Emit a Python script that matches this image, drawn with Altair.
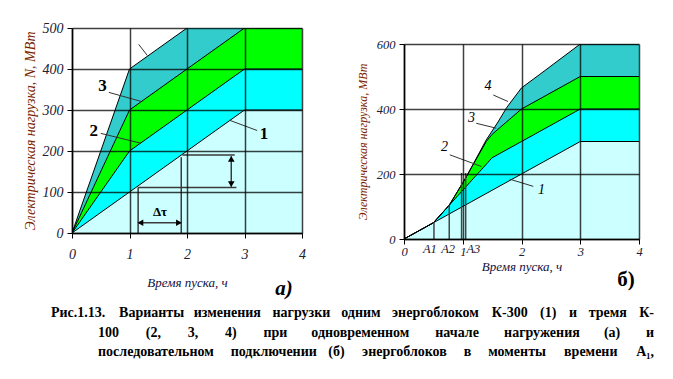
import altair as alt
import pandas as pd

FONT = "Liberation Serif"
COLORS = ["#ccffff", "#00ffff", "#00ff00", "#33cccc"]

# ---------------- panel (a): simultaneous start ----------------
A_T = [[0, 3, 4], [0, 1, 3, 4], [0, 1, 3, 4], [0, 1, 2, 3, 4]]
A_N = [[0, 300, 300], [0, 200, 400, 400], [0, 300, 500, 500], [0, 400, 500, 600, 600]]

A_LABELS = ["1", "2", "3"]
A_LABEL_T = [3.34, 0.38, 0.53]
A_LABEL_N = [242, 250, 358]
A_LEAD_T = [2.74, 0.50, 0.64, 1.16]
A_LEAD_N = [275, 243, 343, 460]
A_LEAD_T2 = [3.22, 1.20, 1.20, 1.31]
A_LEAD_N2 = [250, 219, 321, 433]

A_GUIDE_T = [1.15, 1.15, 1.90, 1.92, 2.77, 1.15]
A_GUIDE_N = [0, 111, 0, 190, 113, 25]
A_GUIDE_T2 = [1.15, 2.86, 1.90, 2.83, 2.77, 1.90]
A_GUIDE_N2 = [111, 111, 185, 190, 187, 25]
A_HEAD_T = [2.77, 2.77, 1.19, 1.86]
A_HEAD_N = [181, 119, 25, 25]
A_HEAD_SHAPE = ["triangle-up", "triangle-down", "triangle-left", "triangle-right"]

# ---------------- panel (б): sequential connection ----------------
B_T = [[0, 3, 4],
       [0, 0.5, 1.5, 2, 3, 4],
       [0, 0.5, 0.77, 1.05, 1.4, 1.5, 2, 3, 4],
       [0, 0.5, 0.77, 1.05, 1.4, 1.6, 1.75, 2, 2.3, 3, 4]]
B_N = [[0, 300, 300],
       [0, 50, 250, 300, 400, 400],
       [0, 50, 104, 188, 300, 322, 400, 500, 500],
       [0, 50, 104, 188, 305, 360, 405, 465, 505, 600, 600]]

B_LABELS = ["1", "2", "3", "4"]
B_LABEL_T = [2.34, 0.69, 1.15, 1.43]
B_LABEL_N = [151, 283, 372, 471]
B_LEAD_T = [1.80, 0.78, 1.23, 1.52]
B_LEAD_N = [184, 259, 356, 443]
B_LEAD_T2 = [2.20, 1.32, 1.57, 1.77]
B_LEAD_N2 = [162, 223, 341, 423]

B_A_T = [0.51, 0.77, 0.98, 1.05]
B_A_TOP = [50, 104, 203, 203]
B_A_NAMES = ["A1", "A2", "A3"]
B_A_NAME_T = [0.44, 0.75, 1.18]

CAPTION = [
    "Рис.1.13. Варианты изменения нагрузки одним энергоблоком К-300 (1) и тремя К-",
    "100 (2, 3, 4) при одновременном начале нагружения (а) и",
    "последовательном подключении (б) энергоблоков в моменты времени А₁,",
]


def bands(ts, ns):
    return pd.concat([pd.DataFrame({"t": t, "N": n, "s": str(i + 1)})
                      for i, (t, n) in enumerate(zip(ts, ns))], ignore_index=True)


def axes(ymax, yvals, w_lab, ytitle, lab_pad_x, title_pad_x, y_title_size, title_pad_y):
    common = dict(labelFont=FONT, labelFontStyle="italic", labelColor="#202030",
                  labelFlush=False, tickSize=5, tickColor="black", domainColor="black",
                  domainWidth=1.5, grid=True, gridColor="black", gridOpacity=0.75,
                  gridWidth=1.5, titleFont=FONT, titleFontStyle="italic",
                  titleFontWeight="normal", zindex=1)
    x = alt.X("t:Q", scale=alt.Scale(domain=[0, 4], nice=False, zero=False),
              axis=alt.Axis(values=[0, 1, 2, 3, 4], format="d", title="Время пуска, ч",
                            labelFontSize=w_lab, labelPadding=lab_pad_x,
                            titleFontSize=13, titleColor="#101040",
                            titlePadding=title_pad_x, **common))
    y = alt.Y("N:Q", scale=alt.Scale(domain=[0, ymax], nice=False), stack=None,
              axis=alt.Axis(values=yvals, format="d", title=ytitle,
                            labelFontSize=w_lab, labelPadding=4,
                            titleFontSize=y_title_size, titleColor="#7a1f00",
                            titlePadding=title_pad_y, **common))
    return x, y


def area_layers(ts, ns, x, y):
    df = bands(ts, ns)
    layers = []
    for i in reversed(range(4)):
        layers.append(alt.Chart(df).transform_filter(alt.datum.s == str(i + 1))
                      .mark_area(color=COLORS[i], opacity=1, clip=True, line=False)
                      .encode(x=x, y=y))
    layers.append(alt.Chart(df).mark_line(color="black", strokeWidth=1, clip=True)
                  .encode(x=alt.X("t:Q"), y=alt.Y("N:Q"), detail="s:N", order="t:Q"))
    return layers


def segs(t, n, t2, n2):
    return pd.DataFrame({"t": t, "N": n, "t2": t2, "N2": n2})


# ---------- panel (a) ----------
xa, ya = axes(500, [0, 100, 200, 300, 400, 500], 14, "Электрическая нагрузка, N, МВт",
              9, 15, 14, 5)
left_layers = area_layers(A_T, A_N, xa, ya)
left_layers.append(alt.Chart(segs(A_LEAD_T, A_LEAD_N, A_LEAD_T2, A_LEAD_N2))
                   .mark_rule(color="#333333", strokeWidth=1)
                   .encode(x="t:Q", y="N:Q", x2="t2", y2="N2"))
left_layers.append(alt.Chart(segs(A_GUIDE_T, A_GUIDE_N, A_GUIDE_T2, A_GUIDE_N2))
                   .mark_rule(color="#3a3a3a", strokeWidth=1.5)
                   .encode(x="t:Q", y="N:Q", x2="t2", y2="N2"))
left_layers.append(alt.Chart(pd.DataFrame({"t": A_HEAD_T, "N": A_HEAD_N, "sh": A_HEAD_SHAPE}))
                   .mark_point(filled=True, color="black", size=45, opacity=1)
                   .encode(x="t:Q", y="N:Q", shape=alt.Shape("sh:N", scale=None)))
left_layers.append(alt.Chart(pd.DataFrame({"t": [1.53], "N": [51], "lab": ["Δτ"]}))
                   .mark_text(font=FONT, fontSize=13, fontWeight="bold", color="black")
                   .encode(x="t:Q", y="N:Q", text="lab:N"))
left_layers.append(alt.Chart(pd.DataFrame({"t": A_LABEL_T, "N": A_LABEL_N, "lab": A_LABELS}))
                   .mark_text(font=FONT, fontSize=17, fontWeight="bold", color="black")
                   .encode(x="t:Q", y="N:Q", text="lab:N"))
left_layers.append(alt.Chart(pd.DataFrame({"lab": ["а)"]}))
                   .mark_text(font=FONT, fontSize=21, fontWeight="bold", fontStyle="italic",
                              color="black")
                   .encode(x=alt.value(212), y=alt.value(261), text="lab:N"))
left = alt.layer(*left_layers).properties(width=230, height=205)

# ---------- panel (б) ----------
xb, yb = axes(600, [0, 100, 200, 300, 400, 500, 600], 12.5, "Электрическая нагрузка, МВт",
              1, 3, 12, 7)
right_layers = area_layers(B_T, B_N, xb, yb)
right_layers.append(alt.Chart(pd.DataFrame({"t": B_A_T, "N": [0] * 4, "N2": B_A_TOP}))
                    .mark_rule(color="#444444", strokeWidth=1.5)
                    .encode(x="t:Q", y="N:Q", y2="N2"))
right_layers.append(alt.Chart(segs(B_LEAD_T, B_LEAD_N, B_LEAD_T2, B_LEAD_N2))
                    .mark_rule(color="#333333", strokeWidth=1)
                    .encode(x="t:Q", y="N:Q", x2="t2", y2="N2"))
right_layers.append(alt.Chart(pd.DataFrame({"t": B_LABEL_T, "N": B_LABEL_N, "lab": B_LABELS}))
                    .mark_text(font=FONT, fontSize=14, fontStyle="italic", color="black")
                    .encode(x="t:Q", y="N:Q", text="lab:N"))
right_layers.append(alt.Chart(pd.DataFrame({"t": B_A_NAME_T, "lab": B_A_NAMES}))
                    .mark_text(font=FONT, fontSize=12.5, fontStyle="italic", color="#202030")
                    .encode(x="t:Q", y=alt.value(205), text="lab:N"))
right_layers.append(alt.Chart(pd.DataFrame({"lab": ["б)"]}))
                    .mark_text(font=FONT, fontSize=21, fontWeight="bold", color="black")
                    .encode(x=alt.value(222), y=alt.value(236), text="lab:N"))
right = alt.layer(*right_layers).properties(width=235, height=195)

spacer = alt.Chart(pd.DataFrame({"a": [0]})).mark_point(size=0, opacity=0).encode(
    x=alt.value(0), y=alt.value(6)).properties(width=235, height=6)
right_col = alt.vconcat(spacer, right, spacing=4)

# ---------- caption (justified word layout) ----------
CAP_SIZE = 14


def char_w(c):
    if c in ".,:;":
        return 0.25
    if c in "()-":
        return 0.33
    if c == " ":
        return 0.25
    if c.isdigit():
        return 0.5
    if c.isupper():
        return 0.70
    if c in "шщмжыю":
        return 0.72
    return 0.5


def word_w(w):
    return sum(char_w(c) for c in w) * CAP_SIZE


CAP_X0 = -21          # caption cell is aligned on the plot origin of panel (a)
CAP_STARTS = [0, 47, 47]
CAP_END = 603
rows = []
for li, line in enumerate(CAPTION):
    words = line.split(" ")
    widths = [word_w(w) for w in words]
    span = CAP_END - CAP_STARTS[li]
    gap = (span - sum(widths)) / (len(words) - 1)
    x = CAP_X0 + CAP_STARTS[li]
    for wi, w in enumerate(words):
        last = wi == len(words) - 1
        rows.append({"w": w, "x": CAP_X0 + CAP_END if last else x,
                     "y": li * 19.5, "last": last})
        x += widths[wi] + gap
cap_df = pd.DataFrame(rows)
cap_base = alt.Chart(cap_df)
cap_left = cap_base.transform_filter(alt.datum.last == False).mark_text(
    font=FONT, fontSize=CAP_SIZE, fontWeight="bold", color="black", align="left",
    baseline="middle").encode(x=alt.X("x:Q", scale=None), y=alt.Y("y:Q", scale=None), text="w:N")
cap_right = cap_base.transform_filter(alt.datum.last == True).mark_text(
    font=FONT, fontSize=CAP_SIZE, fontWeight="bold", color="black", align="right",
    baseline="middle").encode(x=alt.X("x:Q", scale=None), y=alt.Y("y:Q", scale=None), text="w:N")
caption = alt.layer(cap_left, cap_right).properties(width=500, height=40)

chart = alt.vconcat(
    alt.hconcat(left, right_col, spacing=50),
    caption,
    spacing=7,
).properties(
    padding={"left": 15, "top": 13, "right": 5, "bottom": 0}
).configure_view(stroke=None)

chart.save("out.html", embed_options={"renderer": "svg", "actions": False})
